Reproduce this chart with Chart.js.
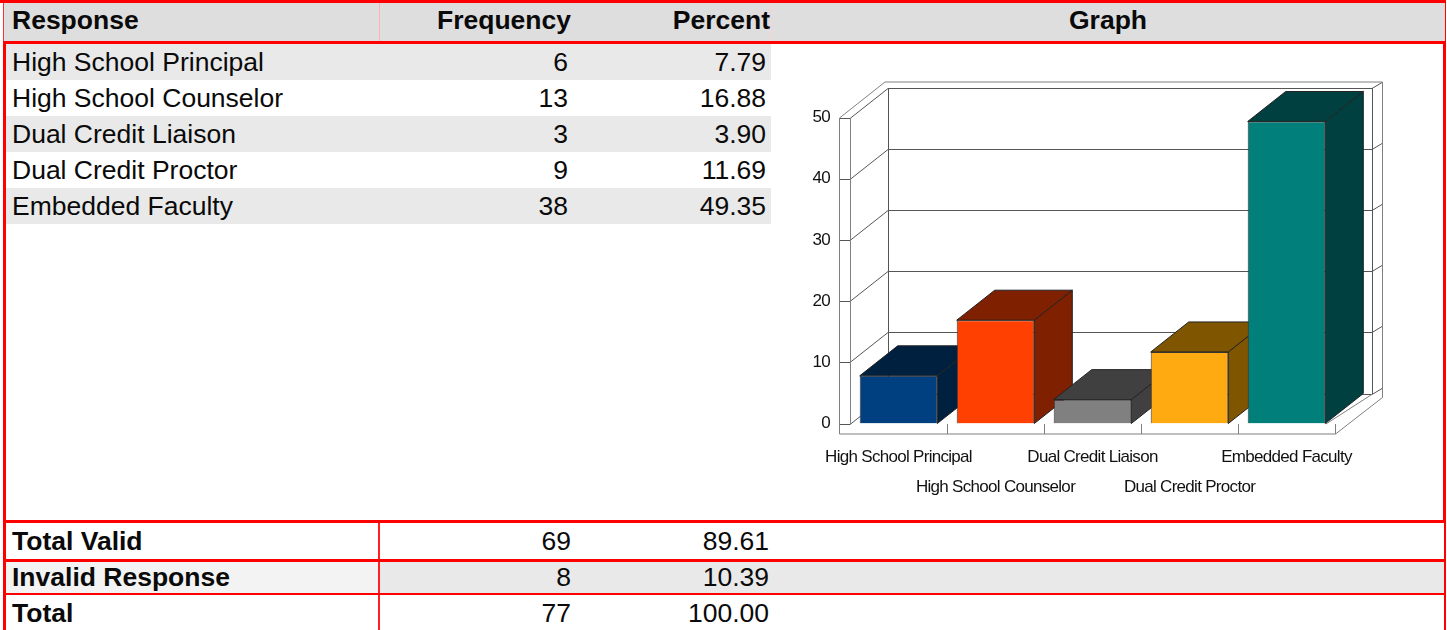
<!doctype html>
<html>

<head>
    <title>Response table</title>
    <script src="https://cdn.jsdelivr.net/npm/chart.js@4/dist/chart.umd.min.js"></script>
    <style>
    html, body { margin: 0; padding: 0; background: #fff; }
    #page { position: relative; width: 1447px; height: 630px; overflow: hidden; font-family: "Liberation Sans", Arial, sans-serif; color: #0a0a0a; }
    #page div { position: absolute; box-sizing: border-box; }
    .txt { font-size: 26.5px; line-height: 36px; white-space: nowrap; }
    .b { font-weight: bold; }
    canvas { position: absolute; left: 776px; top: 45px; }
    </style>
</head>

<body>
    <div id="page">
        <canvas id="myChart" width="664" height="474"></canvas>
    </div>
    <script>
    // table + chart data
    var headers = ["Response", "Frequency", "Percent", "Graph"];
    var categories = ["High School Principal", "High School Counselor", "Dual Credit Liaison", "Dual Credit Proctor", "Embedded Faculty"];
    var frequencies = [6, 13, 3, 9, 38];
    var percents = [7.79, 16.88, 3.90, 11.69, 49.35];
    var totalLabels = ["Total Valid", "Invalid Response", "Total"];
    var totalFrequencies = [69, 8, 77];
    var totalPercents = [89.61, 10.39, 100.00];
    var yTicks = [0, 10, 20, 30, 40, 50];
    var frontColors = ["#004080", "#ff4000", "#808080", "#ffaa11", "#007f7b"];
    var sideColors = ["#002040", "#7f2000", "#404040", "#7f5500", "#004040"];

    var page = document.getElementById("page");

    function box(x, y, w, h, color) {
        var d = document.createElement("div");
        d.style.cssText = "left:" + x + "px;top:" + y + "px;width:" + w + "px;height:" + h + "px;background:" + color;
        page.insertBefore(d, page.firstChild);
        return d;
    }

    function text(str, cy, left, right, bold, center) {
        var d = document.createElement("div");
        d.className = "txt" + (bold ? " b" : "");
        d.textContent = str;
        d.style.top = (cy - 18) + "px";
        if (center) {
            d.style.left = left + "px";
            d.style.width = (right - left) + "px";
            d.style.textAlign = "center";
        } else if (right !== null) {
            d.style.right = (1447 - right) + "px";
        } else {
            d.style.left = left + "px";
        }
        page.appendChild(d);
    }

    function buildTable() {
        // red rules first so they end up on top of the fills (insertBefore reverses order)
        var red = "#ff0000";
        box(0, 0, 1446, 3, red);
        box(3, 41, 1443, 3, red);
        box(3, 2, 1, 40, "#ff3030");
        box(1445, 2, 1, 40, red);
        box(3, 43, 3, 587, red);
        box(1443, 43, 3, 480, red);
        box(3, 520, 1443, 3, red);
        box(3, 559, 1443, 3, red);
        box(3, 593, 1443, 2, red);
        box(1444, 520, 2, 110, red);
        box(378, 522, 2, 108, "#ff2020");
        box(379, 2, 1, 40, "#ffb0b0");
        box(771, 2, 1, 40, "#ffd0d0");

        // row fills
        box(4, 3, 1441, 38, "#dedede");
        for (var i = 0; i < categories.length; i += 2) {
            box(6, 44 + 36 * i, 765, 36, "#e9e9e9");
        }
        box(380, 562, 1064, 31, "#e9e9e9");
        box(6, 562, 372, 31, "#f3f3f3");

        // text
        text(headers[0], 20, 12, null, true);
        text(headers[1], 20, null, 571, true);
        text(headers[2], 20, null, 770, true);
        text(headers[3], 20, 771, 1445, true, true);
        for (var r = 0; r < categories.length; r++) {
            var cy = 62 + 36 * r;
            text(categories[r], cy, 12, null, false);
            text(String(frequencies[r]), cy, null, 568, false);
            text(percents[r].toFixed(2), cy, null, 766, false);
        }
        var totalY = [541, 577, 613];
        for (var t = 0; t < totalLabels.length; t++) {
            text(totalLabels[t], totalY[t], 12, null, true);
            text(String(totalFrequencies[t]), totalY[t], null, 571, false);
            text(totalPercents[t].toFixed(2), totalY[t], null, 769, false);
        }
    }

    // depth of the fake 3d box, in pixels
    var depthX = 38, depthY = 30;

    function path(ctx, pts, color) {
        ctx.strokeStyle = color;
        ctx.lineWidth = 1;
        ctx.beginPath();
        ctx.moveTo(pts[0][0], pts[0][1]);
        for (var i = 1; i < pts.length; i++) ctx.lineTo(pts[i][0], pts[i][1]);
        ctx.stroke();
    }

    function poly(ctx, pts, fill, stroke) {
        ctx.fillStyle = fill;
        ctx.strokeStyle = stroke;
        ctx.lineWidth = 1;
        ctx.beginPath();
        ctx.moveTo(pts[0][0], pts[0][1]);
        for (var i = 1; i < pts.length; i++) ctx.lineTo(pts[i][0], pts[i][1]);
        ctx.closePath();
        ctx.fill();
        ctx.stroke();
    }

    var box3d = {
        id: "box3d",
        beforeDraw: function(chart) {
            // the original labels are squeezed together
            chart.ctx.letterSpacing = "-0.7px";
        },
        beforeDatasetsDraw: function(chart) {
            var ctx = chart.ctx;
            var a = chart.chartArea;
            var y = chart.scales.y;
            var x = chart.scales.x;
            var dark = "#555555", grey = "#808080";
            var wallL = a.left - 11;                  // outer edge of the left band
            var backL = a.left + depthX;
            var backR = a.right + depthX - 1;
            var outerR = backR + 10;
            var floorFront = y.getPixelForValue(0);
            var top = y.getPixelForValue(50);
            var bandB = floorFront + 10;
            ctx.save();

            // gridlines on band, left wall, back wall, right stub
            yTicks.forEach(function(v) {
                var py = Math.round(y.getPixelForValue(v)) + 0.5;
                path(ctx, [[wallL, py], [a.left, py], [backL, py - depthY], [backR, py - depthY], [outerR, py - depthY - 6]], dark);
            });
            // frame
            path(ctx, [[backL + 0.5, top + 0.5 - depthY], [backL + 0.5, floorFront + 0.5 - depthY]], dark);
            path(ctx, [[backR + 0.5, top + 0.5 - depthY], [backR + 0.5, floorFront + 0.5 - depthY]], dark);
            path(ctx, [[a.left + 0.5, top + 0.5], [a.left + 0.5, floorFront + 0.5]], grey);
            path(ctx, [[wallL + 0.5, top + 0.5], [wallL + 0.5, bandB + 0.5], [a.right + 0.5, bandB + 0.5], [outerR + 0.5, floorFront - 26]], grey);
            path(ctx, [[wallL + 0.5, top + 0.5], [backL - 3, top - 36 + 0.5], [outerR + 0.5, top - 36 + 0.5], [outerR + 0.5, floorFront - 26]], grey);
            path(ctx, [[a.right + 0.5, floorFront + 0.5], [a.right + 0.5, bandB + 0.5]], grey);
            path(ctx, [[a.right - 9, floorFront + 0.5], [backR + 0.5, floorFront + 0.5 - depthY]], grey);

            // ticks between categories
            for (var i = 1; i < categories.length; i++) {
                var px = Math.round((x.getPixelForValue(i - 1) + x.getPixelForValue(i)) / 2) + 0.5;
                path(ctx, [[px, floorFront + 0.5], [px, bandB + 0.5]], grey);
            }

            // top and side of every bar, left to right; the library paints the front faces afterwards
            var bars = chart.getDatasetMeta(0).data;
            bars.forEach(function(bar, i) {
                var p = bar.getProps(["x", "y", "base", "width"], true);
                var l = p.x - p.width / 2, r = p.x + p.width / 2;
                poly(ctx, [[r, p.y], [r + depthX, p.y - depthY], [r + depthX, p.base - depthY], [r, p.base]], sideColors[i], "#222222");
                poly(ctx, [[l, p.y], [l + depthX, p.y - depthY], [r + depthX, p.y - depthY], [r, p.y]], sideColors[i], "#222222");
            });
            ctx.restore();
        }
    };

    function drawGraph() {
        var ctx = document.getElementById("myChart").getContext("2d");
        new Chart(ctx, {
            type: "bar",
            data: {
                labels: categories,
                datasets: [{
                    data: percents,
                    backgroundColor: frontColors,
                    borderColor: "#333333",
                    borderWidth: 1,
                    categoryPercentage: 1,
                    barPercentage: 0.8
                }]
            },
            plugins: [box3d],
            options: {
                responsive: false,
                animation: false,
                devicePixelRatio: 1,
                layout: { padding: { top: 72.5, right: 105, left: 0, bottom: 0 } },
                plugins: { legend: { display: false }, tooltip: { enabled: false } },
                scales: {
                    x: {
                        grid: { display: false },
                        border: { display: false },
                        afterFit: function(scale) { scale.height = 95.5; },
                        ticks: {
                            autoSkip: false,
                            maxRotation: 0,
                            minRotation: 0,
                            padding: 11,
                            color: "#111111",
                            font: { family: "Liberation Sans", size: 17, lineHeight: "30px" },
                            callback: function(v, i) {
                                // every other label sits on a second row
                                return i % 2 ? ["", categories[i]] : categories[i];
                            }
                        }
                    },
                    y: {
                        min: 0,
                        max: 50,
                        grid: { display: false },
                        border: { display: false },
                        afterFit: function(scale) { scale.width = 74; },
                        afterBuildTicks: function(scale) {
                            scale.ticks = yTicks.map(function(v) { return { value: v }; });
                        },
                        ticks: {
                            padding: 12,
                            color: "#111111",
                            font: { family: "Liberation Sans", size: 17 }
                        }
                    }
                }
            }
        });
    }

    window.onload = function() {
        buildTable();
        drawGraph();
    };
    </script>
</body>

</html>
